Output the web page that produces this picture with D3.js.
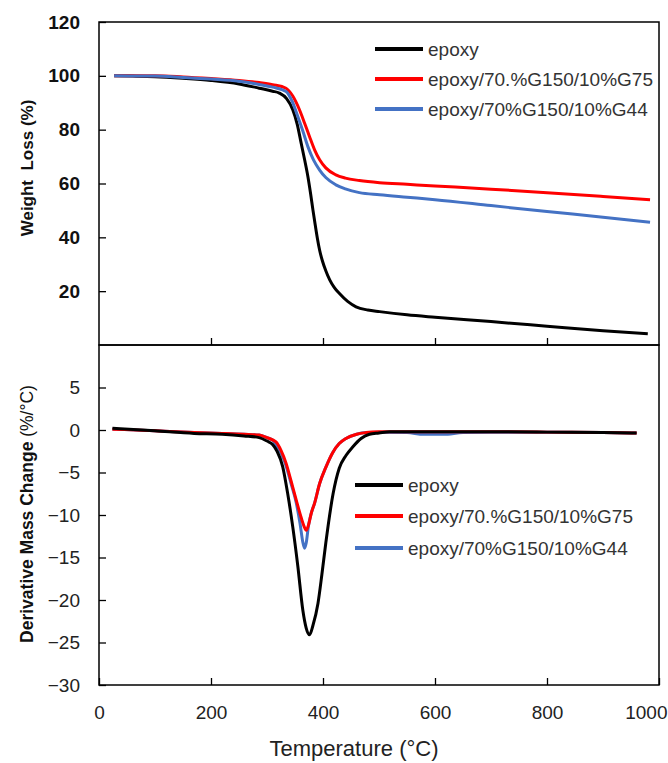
<!DOCTYPE html>
<html>
<head>
<meta charset="utf-8">
<script src="https://cdn.jsdelivr.net/npm/d3@7"></script>
<style>
  html, body { margin: 0; padding: 0; background: #fff; }
  svg { display: block; font-family: "Liberation Sans", Arial, sans-serif; }
</style>
</head>
<body>
<svg id="chart" width="668" height="763"></svg>
<script>
// ---- TGA: weight remaining (%) vs temperature (°C) ----
const tgaEpoxyT = [27, 60, 100, 150, 200, 250, 286, 310, 322, 335, 346, 354, 361, 367, 373, 378, 382, 386, 390, 394, 399, 405, 412, 420, 429, 444, 459, 480, 501, 550, 600, 700, 800, 900, 980];
const tgaEpoxyW = [100, 99.9, 99.7, 99.1, 98.3, 97, 95.4, 94.3, 93.6, 91.5, 87.4, 82, 75, 69, 62.6, 56, 50.2, 44.8, 39.6, 35.2, 31.2, 27.6, 24.2, 21.4, 19.2, 16.2, 14.2, 13, 12.4, 11.2, 10.3, 8.7, 7.0, 5.3, 4.2];

const tgaG75T = [27, 100, 150, 200, 250, 286, 310, 334, 346, 358, 367, 376, 385, 394, 405, 423, 440, 465, 501, 550, 600, 700, 800, 900, 984];
const tgaG75W = [100, 100, 99.6, 99, 98.3, 97.5, 96.7, 95.4, 92.5, 87.4, 82.5, 77.4, 72.5, 68.8, 65.8, 63.2, 62, 61.1, 60.3, 59.7, 59.1, 57.9, 56.6, 55.2, 54];

const tgaG44T = [27, 100, 150, 200, 250, 286, 310, 334, 345, 355, 364, 373, 383, 394, 405, 423, 440, 465, 501, 550, 600, 700, 800, 900, 984];
const tgaG44W = [100, 99.9, 99.4, 98.8, 98, 96.8, 95.8, 94.2, 90.5, 84.9, 79.5, 73.7, 68.8, 65, 62.2, 59.5, 58, 56.6, 55.8, 54.9, 54, 51.8, 49.6, 47.5, 45.6];

// ---- DTG: derivative mass change (%/°C) vs temperature (°C) ----
const dtgEpoxyT = [24, 100, 170, 220, 259, 286, 300, 310, 318, 328, 337, 346, 355, 364, 370, 376, 382, 391, 398, 405, 418, 429, 441, 453, 468, 483, 500, 519, 600, 700, 800, 900, 960];
const dtgEpoxyD = [0.2, -0.1, -0.4, -0.5, -0.7, -0.9, -1.3, -1.7, -2.5, -4.3, -7.5, -11.4, -16, -21.2, -23.3, -24.1, -23, -20.4, -17, -13.3, -7.5, -4.5, -3.0, -2.0, -1.0, -0.5, -0.35, -0.2, -0.2, -0.2, -0.25, -0.3, -0.35];

const dtgG75T = [24, 100, 170, 220, 259, 286, 300, 316, 325, 334, 343, 352, 361, 366, 370, 374, 379, 385, 394, 405, 417, 429, 441, 460, 477, 500, 600, 700, 800, 900, 960];
const dtgG75D = [0.1, -0.1, -0.3, -0.4, -0.5, -0.6, -0.9, -1.4, -2.4, -3.9, -6, -8.2, -10.3, -11.3, -11.8, -11.2, -9.8, -8.6, -6.3, -4.4, -2.7, -1.6, -1, -0.5, -0.3, -0.2, -0.2, -0.2, -0.25, -0.3, -0.35];

const dtgG44T = [24, 100, 170, 220, 259, 286, 300, 310, 316, 325, 334, 343, 352, 359, 364, 367, 370, 374, 379, 385, 394, 405, 417, 429, 441, 460, 477, 500, 550, 580, 615, 650, 700, 800, 900, 960];
const dtgG44D = [0.1, -0.1, -0.3, -0.4, -0.5, -0.6, -0.9, -1.2, -1.7, -2.7, -4.2, -6.3, -8.5, -11, -13.2, -13.9, -13.3, -11.3, -9.8, -8.6, -6.3, -4.4, -2.7, -1.6, -1, -0.5, -0.3, -0.25, -0.3, -0.5, -0.5, -0.3, -0.25, -0.25, -0.3, -0.35];

// ---- series / labels ----
const seriesNames = ["epoxy", "epoxy/70.%G150/10%G75", "epoxy/70%G150/10%G44"];
const seriesColors = ["#000000", "#ff0000", "#4472c4"];
const xTicks = [0, 200, 400, 600, 800, 1000];
const tgaTicks = [20, 40, 60, 80, 100, 120];
const dtgTicks = [-30, -25, -20, -15, -10, -5, 0, 5];

const svg = d3.select("#chart");

const x = d3.scaleLinear().domain([0, 1000]).range([99, 659]);
const yTop = d3.scaleLinear().domain([0, 120]).range([345, 22]);
const yBot = d3.scaleLinear().domain([-30, 10]).range([685, 345]);

function zipSeries(t, v) { return t.map((d, i) => [d, v[i]]); }

const tgaSeries = [
  zipSeries(tgaEpoxyT, tgaEpoxyW),
  zipSeries(tgaG75T, tgaG75W),
  zipSeries(tgaG44T, tgaG44W)
];
const dtgSeries = [
  zipSeries(dtgEpoxyT, dtgEpoxyD),
  zipSeries(dtgG75T, dtgG75D),
  zipSeries(dtgG44T, dtgG44D)
];

// curves
const lineTop = d3.line().x(d => x(d[0])).y(d => yTop(d[1])).curve(d3.curveMonotoneX);
const lineBot = d3.line().x(d => x(d[0])).y(d => yBot(d[1])).curve(d3.curveMonotoneX);

const topOrder = [0, 1, 2];
const botOrder = [2, 1, 0];

svg.append("g").selectAll("path")
  .data(topOrder).join("path")
  .attr("d", i => lineTop(tgaSeries[i]))
  .attr("fill", "none")
  .attr("stroke", i => seriesColors[i])
  .attr("stroke-width", 3)
  .attr("stroke-linejoin", "round");

svg.append("g").selectAll("path")
  .data(botOrder).join("path")
  .attr("d", i => lineBot(dtgSeries[i]))
  .attr("fill", "none")
  .attr("stroke", i => seriesColors[i])
  .attr("stroke-width", 3)
  .attr("stroke-linejoin", "round");

// panel frames
[[yTop, 120, 0], [yBot, 10, -30]].forEach(([ys, hi, lo]) => {
  svg.append("rect")
    .attr("x", x(0)).attr("y", ys(hi))
    .attr("width", x(1000) - x(0)).attr("height", ys(lo) - ys(hi))
    .attr("fill", "none").attr("stroke", "#000").attr("stroke-width", 1.5);
});

// axes
const axTop = svg.append("g").attr("transform", `translate(${x(0)},0)`)
  .call(d3.axisLeft(yTop).tickValues(tgaTicks).tickSize(-7).tickPadding(19).tickFormat(d3.format("d")));
axTop.select(".domain").remove();
axTop.selectAll("text").attr("font-size", 19).attr("font-weight", "bold").attr("fill", "#111")
  .attr("font-family", "Liberation Sans, Arial, sans-serif");
axTop.selectAll("line").attr("stroke-width", 1.3);

const axBot = svg.append("g").attr("transform", `translate(${x(0)},0)`)
  .call(d3.axisLeft(yBot).tickValues(dtgTicks).tickSize(-7).tickPadding(19).tickFormat(d3.format("d")));
axBot.select(".domain").remove();
axBot.selectAll("text").attr("font-size", 19).attr("fill", "#222")
  .attr("font-family", "Liberation Sans, Arial, sans-serif");
axBot.selectAll("line").attr("stroke-width", 1.3);

const axX = svg.append("g").attr("transform", `translate(0,${yBot(-30)})`)
  .call(d3.axisBottom(x).tickValues(xTicks).tickSize(-7).tickPadding(21).tickFormat(d3.format("d")));
axX.select(".domain").remove();
axX.selectAll("text").attr("font-size", 19).attr("fill", "#222")
  .attr("font-family", "Liberation Sans, Arial, sans-serif");
axX.selectAll("line").attr("stroke-width", 1.3);
// keep the last label inside the page
axX.selectAll(".tick text").filter(d => d === 1000)
  .attr("text-anchor", "end").attr("x", 667 - x(1000));

// x ticks along the bottom of the upper panel (no labels)
const axXTop = svg.append("g").attr("transform", `translate(0,${yTop(0)})`)
  .call(d3.axisBottom(x).tickValues(xTicks.slice(1, -1)).tickSize(-7).tickFormat(""));
axXTop.select(".domain").remove();
axXTop.selectAll("line").attr("stroke-width", 1.3);

// axis titles
svg.append("text")
  .attr("transform", `translate(27,168) rotate(-90)`)
  .attr("text-anchor", "middle").attr("dominant-baseline", "central")
  .attr("font-size", 17).attr("font-weight", "bold").attr("fill", "#111")
  .attr("xml:space", "preserve")
  .text("Weight  Loss (%)");

const dTitle = svg.append("text")
  .attr("transform", `translate(27,514) rotate(-90)`)
  .attr("text-anchor", "middle").attr("dominant-baseline", "central")
  .attr("font-size", 17.5).attr("fill", "#111");
dTitle.append("tspan").attr("font-weight", "bold").text("Derivative Mass Change ");
dTitle.append("tspan").text("(%/°C)");

svg.append("text")
  .attr("x", 354).attr("y", 748)
  .attr("text-anchor", "middle").attr("dominant-baseline", "central")
  .attr("font-size", 22).attr("fill", "#222")
  .text("Temperature (°C)");

// legends
function legend(x0, ys) {
  const g = svg.append("g");
  seriesNames.forEach((name, i) => {
    g.append("line")
      .attr("x1", x0).attr("x2", x0 + 48)
      .attr("y1", ys[i]).attr("y2", ys[i])
      .attr("stroke", seriesColors[i]).attr("stroke-width", 4);
    g.append("text")
      .attr("x", x0 + 53).attr("y", ys[i])
      .attr("dominant-baseline", "central")
      .attr("font-size", 19).attr("fill", "#333")
      .text(name);
  });
}
legend(375, [49, 79, 109]);
legend(355, [485, 516, 548]);
</script>
</body>
</html>
